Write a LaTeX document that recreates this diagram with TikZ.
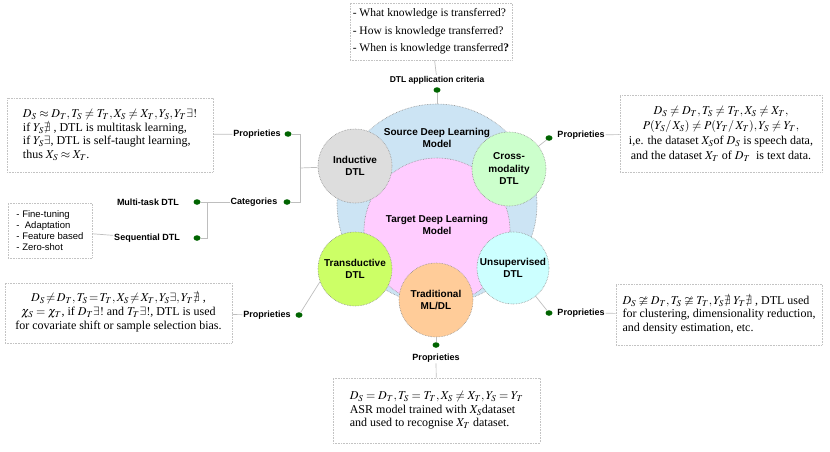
\documentclass[tikz,border=0pt]{standalone}
\usepackage{amssymb}
\usepackage{mathptmx}
\usepackage{fontspec}
\setmainfont{Liberation Serif}
\newfontfamily\arialfont{Liberation Sans}
\usetikzlibrary{shapes.geometric}
\definecolor{srcblue}{RGB}{204,228,244}
\definecolor{tgtpink}{RGB}{255,204,255}
\definecolor{indgray}{RGB}{221,221,221}
\definecolor{crossgreen}{RGB}{204,255,204}
\definecolor{transyellow}{RGB}{204,255,102}
\definecolor{tradorange}{RGB}{255,204,153}
\definecolor{unsupcyan}{RGB}{204,255,255}
\definecolor{dotgreen}{RGB}{0,100,0}
\definecolor{linegray}{RGB}{190,190,190}
\definecolor{boxgray}{RGB}{195,195,195}
\definecolor{circgray}{RGB}{140,140,140}
\tikzset{
  bigcirc/.style={circle, draw=circgray, densely dotted, line width=0.6pt, inner sep=0pt},
  smallcirc/.style={circle, draw=circgray, densely dotted, line width=0.6pt, inner sep=0pt, minimum size=74pt, align=center, font=\arialfont\bfseries\fontsize{10}{12.5}\selectfont},
  circtext/.style={align=center, font=\arialfont\bfseries\fontsize{10}{12.5}\selectfont},
  lbl/.style={inner sep=1pt, font=\arialfont\bfseries\fontsize{9}{11}\selectfont},
  gdot/.style={ellipse, fill=dotgreen, draw=none, minimum width=7pt, minimum height=5.5pt, inner sep=0pt},
  infobox/.style={draw=boxgray, densely dotted, line width=0.6pt, fill=white, inner sep=0pt, font=\fontsize{12}{14}\selectfont},
  conn/.style={draw=linegray, line width=0.7pt}
}
\begin{document}
\begin{tikzpicture}[x=1pt,y=-1pt]
\useasboundingbox (0,0) rectangle (830,452);
% main circles
\node[bigcirc, fill=srcblue, minimum size=200pt] (source) at (437,204) {};
\node[circtext] (sourcetxt) at (437,138) {Source Deep Learning\\Model};
\node[bigcirc, fill=tgtpink, minimum size=146pt] (target) at (437,231) {};
\node[circtext] (targettxt) at (437,225) {Target Deep Learning\\Model};
\node[smallcirc, fill=indgray] (inductive) at (355,166) {Inductive\\DTL};
\node[smallcirc, fill=crossgreen, minimum size=74pt] (cross) at (509,169) {Cross-\\modality\\DTL};
\node[smallcirc, fill=transyellow] (trans) at (355,269) {Transductive\\DTL};
\node[smallcirc, fill=tradorange] (trad) at (436,300) {Traditional\\ML/DL};
\node[smallcirc, fill=unsupcyan, minimum size=72pt] (unsup) at (513,268) {Unsupervised\\DTL};

% top criteria
\node[infobox, minimum width=162pt, minimum height=57pt, align=left, font=\fontsize{11.5}{17.5}\selectfont] (critbox) at (431,31.5)
  {- What knowledge is transferred?\\- How is knowledge transferred?\\- When is knowledge transferred\textbf{?}};
\node[lbl, font=\arialfont\bfseries\fontsize{8.5}{10}\selectfont] (critlbl) at (437,80) {DTL application criteria};
\node[gdot] (critdot) at (437,90) {};
\draw[conn] (critbox) -- (critlbl);
\draw[conn] (critdot) -- (source);

% inductive side
\node[infobox, minimum width=206pt, minimum height=74pt, align=left, font=\fontsize{12}{13.7}\selectfont] (indbox) at (110,135)
  {$D_S\approx D_T, T_S\neq T_T, X_S\neq X_T, Y_S, Y_T\exists!$\\
   if $Y_S\nexists$ , DTL is multitask learning,\\
   if $Y_S\exists$, DTL is self-taught learning,\\
   thus $X_S\approx X_T$.};
\node[lbl] (indprop) at (257,134) {Proprieties};
\node[gdot] (indpropdot) at (288,134) {};
\node[lbl] (cat) at (254,202) {Categories};
\node[gdot] (catdot) at (287,202) {};
\coordinate (jtop) at (300,134);
\coordinate (jmid) at (300,168);
\coordinate (jbot) at (300,202);
\draw[conn] (indbox) -- (indprop);
\draw[conn] (indpropdot) -- (jtop) -- (jbot) -- (catdot);
\draw[conn] (jmid) -- (inductive);

\node[lbl] (multi) at (148,202) {Multi-task DTL};
\node[gdot] (multidot) at (197,202) {};
\node[lbl] (seq) at (147,238) {Sequential DTL};
\node[gdot] (seqdot) at (197,238) {};
\coordinate (ma) at (207,202);
\coordinate (mb) at (207,238);
\draw[conn] (multidot) -- (ma) -- (mb) -- (seqdot);
\draw[conn] (ma) -- (cat);
\node[infobox, minimum width=84pt, minimum height=55pt, align=left, font=\arialfont\fontsize{9.5}{10.8}\selectfont] (seqbox) at (50,230.5)
  {- Fine-tuning\\-\ \ Adaptation\\- Feature based\\- Zero-shot};
\draw[conn] (seqbox) -- (seq);

% cross-modality
\node[gdot] (crossdot) at (549,138) {};
\node[lbl] (crossprop) at (581,135) {Proprieties};
\node[infobox, minimum width=202pt, minimum height=77pt, align=center, font=\fontsize{12}{15}\selectfont] (crossbox) at (721,133.5)
  {$D_S\neq D_T, T_S\neq T_T, X_S\neq X_T,$\\
   $P(Y_S/\,X_S)\neq P(Y_T/\,X_T), Y_S\neq Y_T,$\\
   i,e. the dataset $X_S$of $D_S$ is speech data,\\
   and the dataset $X_T$ of $D_T$\ \ is text data.};
\draw[conn] (crossdot) -- (cross);
\draw[conn] (crossprop) -- (crossbox);

% transductive
\node[infobox, minimum width=227pt, minimum height=60pt, align=center, font=\fontsize{12}{14}\selectfont] (transbox) at (118.5,313)
  {$D_S\!\neq\! D_T, T_S\!=\!T_T, X_S\!\neq\! X_T, Y_S\exists, Y_T\nexists$\ ,\\
   $\chi_S=\chi_T$, if $D_T\exists!$ and $T_T\exists!$, DTL is used\\
   for covariate shift or sample selection bias.};
\node[lbl] (transprop) at (267,315) {Proprieties};
\node[gdot] (transdot) at (299,315) {};
\draw[conn] (transbox) -- (transprop);
\draw[conn] (transdot) -- (trans.200);

% unsupervised
\node[gdot] (unsupdot) at (549,313) {};
\node[lbl] (unsupprop) at (581,313) {Proprieties};
\node[infobox, minimum width=206pt, minimum height=61pt, align=left, font=\fontsize{12}{13.6}\selectfont] (unsupbox) at (719,314.5)
  {$D_S\ncong D_T, T_S\ncong T_T, Y_S\nexists\; Y_T\nexists$ , DTL used\\
   for clustering, dimensionality reduction,\\
   and density estimation, etc.};
\draw[conn] (unsupdot) -- (unsup);
\draw[conn] (unsupprop) -- (unsupbox);

% traditional
\node[gdot] (traddot) at (436,345) {};
\node[lbl] (tradprop) at (436,358) {Proprieties};
\node[infobox, minimum width=207pt, minimum height=65pt, align=left, font=\fontsize{12}{13.6}\selectfont] (tradbox) at (436.5,410.5)
  {$D_S=D_T, T_S=T_T, X_S\neq X_T, Y_S=Y_T$\\
   ASR model trained with $X_S$dataset\\
   and used to recognise $X_T$ dataset.};
\draw[conn] (trad) -- (traddot);
\draw[conn] (tradprop) -- (tradbox);
\end{tikzpicture}
\end{document}
